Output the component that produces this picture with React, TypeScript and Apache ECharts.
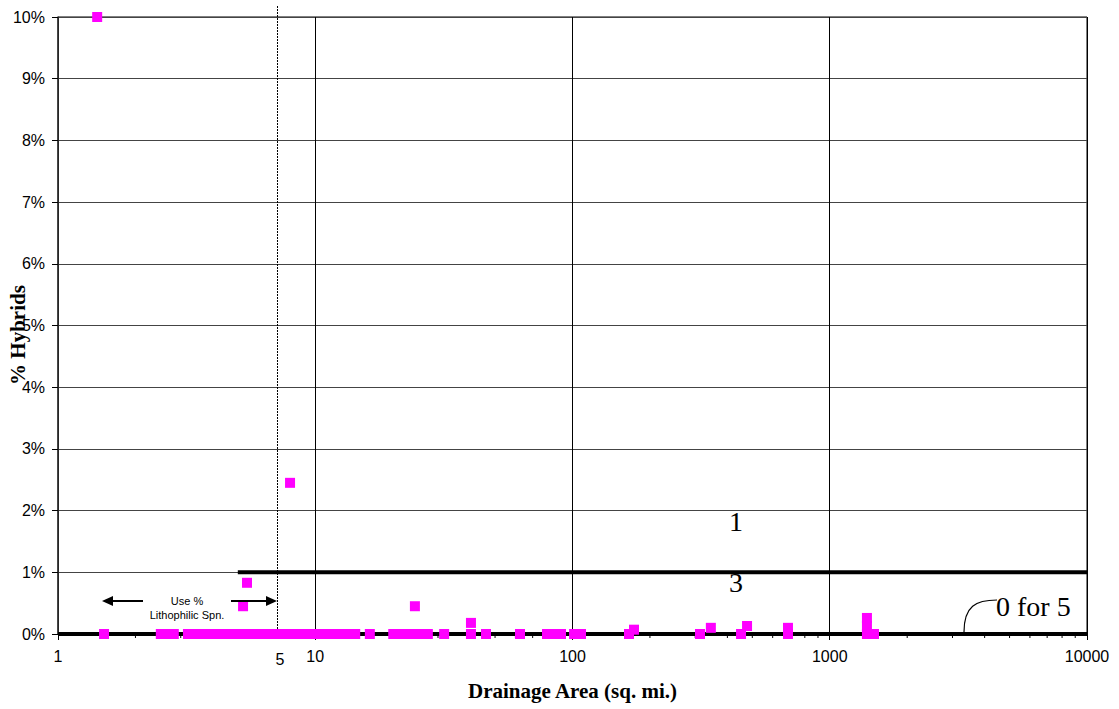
import React, { useEffect, useRef } from "react";
import * as echarts from "echarts";

// Drainage area (sq. mi.) and % hybrids for each sampled site
const areas: number[] = [
  1.42, 1.51, 2.51, 2.65, 2.82,
  3.2, 3.38, 3.56, 3.76, 3.97, 4.19, 4.42, 4.66, 4.92, 5.19, 5.24, 5.43, 5.48, 5.78,
  6.1, 6.44, 6.79, 7.17, 7.56, 7.98, 7.98, 8.42, 8.88, 9.37, 9.89,
  10.4, 11.0, 11.6, 12.3, 12.9, 13.7, 14.3, 16.3,
  20.1, 21.3, 22.9, 24.4, 24.4, 26.0, 27.4, 31.7, 40.3, 40.3, 46.1, 62.5,
  79.6, 84.8, 90.2, 101.4, 107.9,
  165.8, 173.4, 313, 345, 452, 477, 688, 688,
  1395, 1395, 1395, 1486,
];
const hybrids: number[] = [
  10, 0, 0, 0, 0,
  0, 0, 0, 0, 0, 0, 0, 0, 0, 0, 0.45, 0.83, 0, 0,
  0, 0, 0, 0, 0, 0, 2.45, 0, 0, 0, 0,
  0, 0, 0, 0, 0, 0, 0, 0,
  0, 0, 0, 0, 0.45, 0, 0, 0, 0, 0.18, 0, 0,
  0, 0, 0, 0, 0,
  0, 0.07, 0, 0.1, 0, 0.13, 0, 0.1,
  0, 0.13, 0.26, 0,
];

// Threshold lines: 1% from 5 sq. mi. upward, 0% across the whole range
const onePctLine: [number, number][] = [[5, 1], [10000, 1]];
const zeroLine: [number, number][] = [[1, 0], [10000, 0]];

// Log-axis minor ticks (2..9 within each decade)
const minorTickValues: number[] = [];
for (const decade of [1, 10, 100, 1000]) {
  for (const m of [2, 3, 4, 5, 6, 7, 8, 9]) minorTickValues.push(m * decade);
}

const yTicks: number[] = [0, 1, 2, 3, 4, 5, 6, 7, 8, 9, 10];

export default function App() {
  const ref = useRef<HTMLDivElement>(null);

  useEffect(() => {
    if (!ref.current) return;
    const chart = echarts.init(ref.current, null, { renderer: "svg" });
    const serif = "'Liberation Serif', 'Times New Roman', serif";
    const sans = "'Liberation Sans', Arial, sans-serif";

    chart.setOption({
      animation: false,
      backgroundColor: "#fff",
      grid: {
        left: 58,
        right: 32,
        top: 17,
        bottom: 75,
        show: true,
        borderColor: "#000",
        borderWidth: 1,
        outerBoundsMode: "none",
        containLabel: false,
      },
      xAxis: {
        type: "log",
        logBase: 10,
        min: 1,
        max: 10000,
        name: "Drainage Area (sq. mi.)",
        nameLocation: "middle",
        nameGap: 46,
        nameTextStyle: { fontFamily: serif, fontWeight: "bold", fontSize: 21, color: "#000" },
        axisLine: { show: true, lineStyle: { color: "#000", width: 1 } },
        axisTick: { show: true, length: 6, lineStyle: { color: "#000" } },
        axisLabel: {
          fontFamily: sans,
          fontSize: 16,
          color: "#000",
          margin: 14,
          formatter: (v: number) => String(Math.round(v)),
        },
        splitLine: { show: true, lineStyle: { color: "#000", width: 1 } },
        minorTick: { show: false },
      },
      yAxis: {
        type: "value",
        min: yTicks[0],
        max: yTicks[yTicks.length - 1],
        interval: 1,
        axisLine: { show: true, lineStyle: { color: "#333", width: 1.5 } },
        axisTick: { show: true, length: 6, lineStyle: { color: "#000" } },
        axisLabel: { fontFamily: sans, fontSize: 16, color: "#000", margin: 13, formatter: "{value}%" },
        splitLine: { show: true, lineStyle: { color: "#444", width: 1 } },
      },
      series: [
        {
          type: "custom",
          clip: false,
          silent: true,
          data: minorTickValues.map((v) => [v, 0]),
          renderItem: (params: any, api: any) => {
            const p = api.coord([api.value(0), 0]);
            return {
              type: "line",
              shape: { x1: p[0], y1: p[1], x2: p[0], y2: p[1] + 4 },
              style: { stroke: "#000", lineWidth: 1 },
            };
          },
          z: 1,
        },
        {
          type: "line",
          data: zeroLine,
          symbol: "none",
          lineStyle: { color: "#000", width: 4 },
          z: 2,
        },
        {
          type: "line",
          data: onePctLine,
          symbol: "none",
          lineStyle: { color: "#000", width: 4 },
          z: 2,
        },
        {
          type: "scatter",
          clip: false,
          symbol: "rect",
          symbolSize: 10,
          itemStyle: { color: "#FF00FF", opacity: 1 },
          data: areas.map((a, i) => [a, hybrids[i]]),
          z: 5,
        },
      ],
      graphic: [
        // "% Hybrids" axis title
        {
          type: "text",
          x: 18,
          y: 335,
          rotation: Math.PI / 2,
          style: {
            text: "% Hybrids",
            font: `bold 21px ${serif}`,
            fill: "#000",
            align: "center",
            verticalAlign: "middle",
          },
        },
        // dotted 5 sq. mi. divider with its label
        {
          type: "line",
          shape: { x1: 277.5, y1: 6, x2: 277.5, y2: 638 },
          style: { stroke: "#000", lineWidth: 1, lineDash: [2, 1] },
          z: 3,
        },
        {
          type: "text",
          x: 280,
          y: 659,
          style: { text: "5", font: `16px ${sans}`, fill: "#000", align: "center", verticalAlign: "middle" },
        },
        // "Use % Lithophilic Spn." arrows and note
        {
          type: "line",
          shape: { x1: 143, y1: 601, x2: 110, y2: 601 },
          style: { stroke: "#000", lineWidth: 2 },
          z: 6,
        },
        {
          type: "polygon",
          shape: { points: [[102, 601], [113, 596], [113, 606]] },
          style: { fill: "#000" },
          z: 6,
        },
        {
          type: "line",
          shape: { x1: 231, y1: 601, x2: 268, y2: 601 },
          style: { stroke: "#000", lineWidth: 2 },
          z: 6,
        },
        {
          type: "polygon",
          shape: { points: [[277, 601], [266, 596], [266, 606]] },
          style: { fill: "#000" },
          z: 6,
        },
        {
          type: "text",
          x: 187,
          y: 601,
          style: { text: "Use %", font: `11px ${sans}`, fill: "#000", align: "center", verticalAlign: "middle" },
          z: 6,
        },
        {
          type: "text",
          x: 187,
          y: 615,
          style: { text: "Lithophilic Spn.", font: `11px ${sans}`, fill: "#000", align: "center", verticalAlign: "middle" },
          z: 6,
        },
        // threshold scores
        {
          type: "text",
          x: 736,
          y: 521,
          style: { text: "1", font: `28px ${serif}`, fill: "#000", align: "center", verticalAlign: "middle" },
        },
        {
          type: "text",
          x: 736,
          y: 582,
          style: { text: "3", font: `28px ${serif}`, fill: "#000", align: "center", verticalAlign: "middle" },
        },
        {
          type: "text",
          x: 996,
          y: 606,
          style: { text: "0 for 5", font: `28px ${serif}`, fill: "#000", align: "left", verticalAlign: "middle" },
        },
        {
          type: "bezierCurve",
          shape: { x1: 964, y1: 632, cpx1: 964, cpy1: 606, cpx2: 976, cpy2: 600, x2: 997, y2: 600 },
          style: { stroke: "#000", lineWidth: 1.2, fill: "none" },
        },
      ],
    });

    return () => chart.dispose();
  }, []);

  return (
    <div
      ref={ref}
      style={{ position: "absolute", left: 0, top: 0, width: 1119, height: 709 }}
    />
  );
}
